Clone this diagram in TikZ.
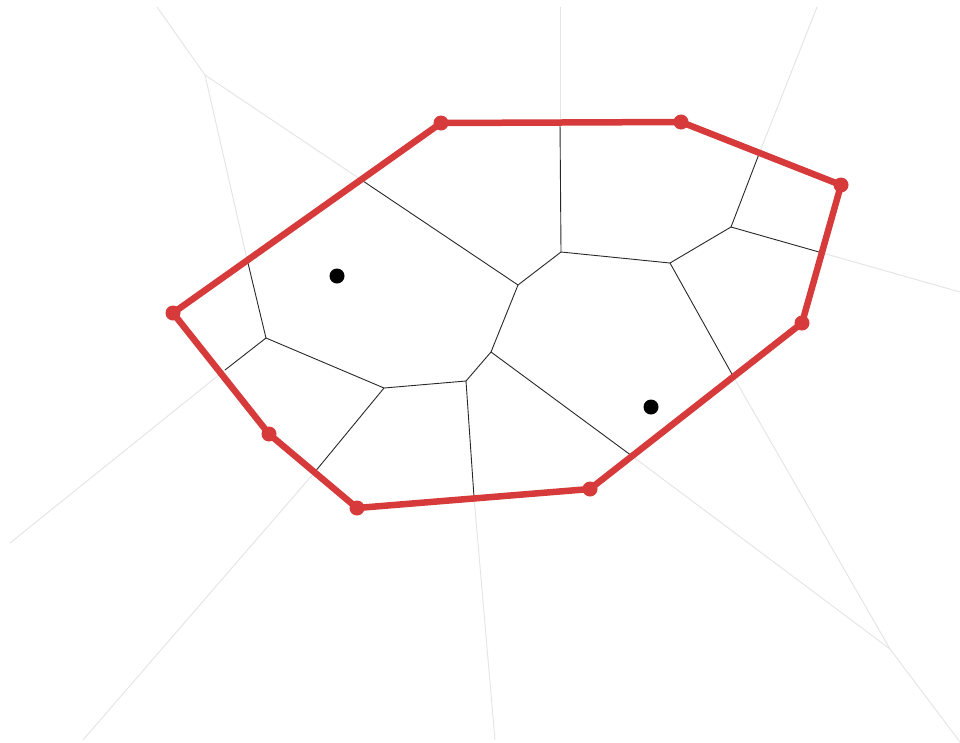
\documentclass[tikz,border=0pt]{standalone}
\begin{document}
\begin{tikzpicture}[x=1pt,y=-1pt,
  faint/.style={draw={rgb,255:red,228;green,228;blue,228},line width=0.9pt},
  celledge/.style={draw={rgb,255:red,40;green,40;blue,40},line width=0.9pt},
  hull/.style={draw={rgb,255:red,214;green,58;blue,58},line width=6.5pt,line join=round},
  hullpt/.style={fill={rgb,255:red,214;green,58;blue,58}},
  site/.style={fill=black}]
\useasboundingbox (0,0) rectangle (960,742);
\fill[white] (0,0) rectangle (960,742);
% hull vertices
\coordinate (P1) at (441,123);
\coordinate (P2) at (681,122);
\coordinate (P3) at (841,185);
\coordinate (P4) at (802,323);
\coordinate (P5) at (590,489);
\coordinate (P6) at (357,508);
\coordinate (P7) at (269,434);
\coordinate (P8) at (173,313);
% inner voronoi vertices
\coordinate (A) at (561,252);
\coordinate (B) at (670,263);
\coordinate (C) at (731,227);
\coordinate (D) at (518,285);
\coordinate (E) at (491,352);
\coordinate (F) at (466,381);
\coordinate (G) at (384,388);
\coordinate (H) at (266,338);
% crossings with hull
\coordinate (a1) at (560,122);
\coordinate (c1) at (759,154);
\coordinate (c2) at (819,252);
\coordinate (b1) at (733,376);
\coordinate (e1) at (632,456);
\coordinate (f1) at (474,497);
\coordinate (g1) at (314,473);
\coordinate (h1) at (225,370);
\coordinate (h2) at (247,259);
\coordinate (d1) at (360,179);
% outer voronoi vertices / ends
\coordinate (Q1) at (205,75);
\coordinate (Q2) at (890,649);
\coordinate (a0) at (560,7);
\coordinate (c0) at (817,7);
\coordinate (c3) at (960,292);
\coordinate (q2e) at (960,742);
\coordinate (f0) at (495,740);
\coordinate (g0) at (83,740);
\coordinate (h0) at (10,543);
\coordinate (q1e) at (157,7);
% faint outer edges
\draw[faint] (a1) -- (a0);
\draw[faint] (c1) -- (c0);
\draw[faint] (c2) -- (c3);
\draw[faint] (b1) -- (Q2);
\draw[faint] (e1) -- (Q2);
\draw[faint] (Q2) -- (q2e);
\draw[faint] (f1) -- (f0);
\draw[faint] (g1) -- (g0);
\draw[faint] (h1) -- (h0);
\draw[faint] (h2) -- (Q1);
\draw[faint] (d1) -- (Q1);
\draw[faint] (Q1) -- (q1e);
% inner edges
\draw[celledge] (a1) -- (A);
\draw[celledge] (A) -- (B);
\draw[celledge] (A) -- (D);
\draw[celledge] (B) -- (C);
\draw[celledge] (C) -- (c1);
\draw[celledge] (C) -- (c2);
\draw[celledge] (B) -- (b1);
\draw[celledge] (D) -- (d1);
\draw[celledge] (D) -- (E);
\draw[celledge] (E) -- (F);
\draw[celledge] (E) -- (e1);
\draw[celledge] (F) -- (G);
\draw[celledge] (F) -- (f1);
\draw[celledge] (G) -- (H);
\draw[celledge] (G) -- (g1);
\draw[celledge] (H) -- (h2);
\draw[celledge] (H) -- (h1);
% hull
\draw[hull] (P1) -- (P2) -- (P3) -- (P4) -- (P5) -- (P6) -- (P7) -- (P8) -- cycle;
\foreach \p in {P1,P2,P3,P4,P5,P6,P7,P8} \fill[hullpt] (\p) circle (7.5);
% sites
\fill[site] (337,276) circle (7.5);
\fill[site] (651,407) circle (7.5);
\end{tikzpicture}
\end{document}
